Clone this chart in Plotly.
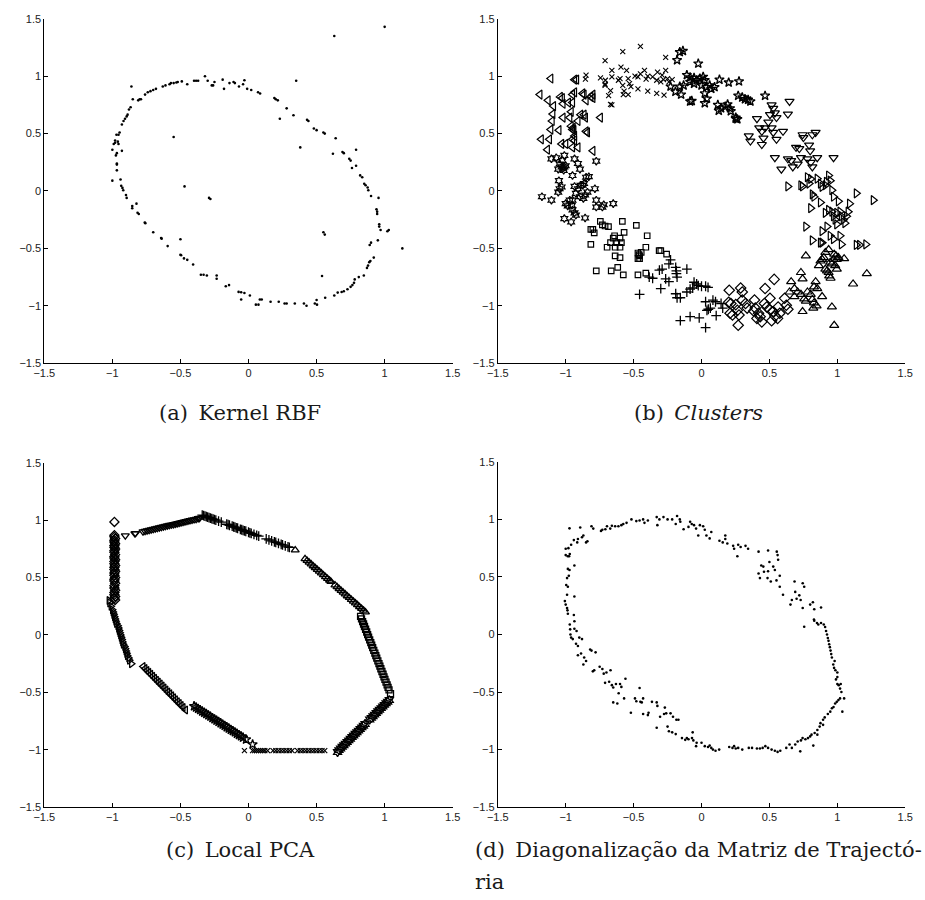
import plotly.graph_objects as go

# ---------------- (a) Kernel RBF ----------------
a_pts = [
    (1.00, 1.43), (0.63, 1.35), (0.35, 0.96), (-0.55, 0.47), (-0.47, 0.04), (-0.28, -0.07), (-0.29, -0.06),
    (0.55, -0.36), (0.56, -0.38), (0.54, -0.74), (1.13, -0.50), (1.03, -0.34), (1.02, -0.35), (0.38, 0.38),
    (0.23, 0.63), (0.33, 0.66), (0.64, 0.46), (0.79, 0.36), (-0.50, -0.42),
    (-0.86, 0.91), (-0.85, 0.80), (-0.81, 0.79), (-0.80, 0.80), (-0.79, 0.80), (-0.76, 0.84), (-0.74, 0.86),
    (-0.72, 0.87), (-0.70, 0.88), (-0.68, 0.89), (-0.63, 0.91), (-0.61, 0.92), (-0.58, 0.93), (-0.57, 0.94),
    (-0.55, 0.94), (-0.53, 0.945), (-0.52, 0.95), (-0.49, 0.955), (-0.45, 0.93), (-0.40, 0.96), (-0.385, 0.96),
    (-0.37, 0.96), (-0.32, 1.00), (-0.30, 0.96), (-0.27, 0.92), (-0.26, 0.92), (-0.25, 0.95), (-0.19, 0.97),
    (-0.18, 0.89), (-0.14, 0.94), (-0.11, 0.95), (-0.10, 0.94), (-0.07, 0.91), (-0.04, 0.93), (-0.03, 0.965),
    (-0.01, 0.89), (0.02, 0.88), (0.07, 0.86), (0.085, 0.85), (0.19, 0.81), (0.20, 0.80), (0.215, 0.79),
    (0.28, 0.72), (0.43, 0.62), (0.44, 0.61), (0.48, 0.545), (0.50, 0.53), (0.55, 0.51), (0.56, 0.50),
    (0.62, 0.325), (0.69, 0.34), (0.70, 0.33), (0.74, 0.28), (0.75, 0.265), (0.76, 0.20), (0.79, 0.22),
    (0.82, 0.136), (0.835, 0.12), (0.85, 0.063), (0.86, 0.05), (0.875, 0.03), (0.88, 0.007), (0.90, -0.044),
    (0.955, -0.06), (0.94, -0.16), (0.945, -0.18), (0.945, -0.20), (0.96, -0.29), (0.96, -0.31), (0.97, -0.34),
    (0.95, -0.43), (0.90, -0.45), (0.89, -0.47), (0.92, -0.58), (0.895, -0.61), (0.887, -0.62), (0.878, -0.65),
    (0.87, -0.67), (0.847, -0.736), (0.81, -0.75), (0.78, -0.77), (0.775, -0.80), (0.763, -0.82), (0.75, -0.835),
    (0.727, -0.856), (0.70, -0.873), (0.684, -0.88), (0.655, -0.885), (0.63, -0.91), (0.563, -0.93),
    (0.50, -0.95), (0.487, -0.98), (0.503, -0.99), (0.426, -1.00), (0.407, -0.98), (0.34, -0.98), (0.28, -0.98),
    (0.265, -0.98), (0.222, -0.965), (0.162, -0.965), (0.097, -0.945), (0.083, -0.945), (0.073, -0.99),
    (0.054, -0.99), (0.01, -0.91), (-0.03, -0.888), (-0.054, -0.882), (-0.073, -0.879), (-0.054, -0.945),
    (-0.143, -0.82), (-0.167, -0.83), (-0.234, -0.736), (-0.234, -0.765), (-0.306, -0.736), (-0.33, -0.73),
    (-0.35, -0.73), (-0.407, -0.64), (-0.45, -0.60), (-0.474, -0.587), (-0.50, -0.556), (-0.495, -0.56),
    (-0.594, -0.48), (-0.642, -0.41), (-0.638, -0.415), (-0.70, -0.36), (-0.758, -0.28), (-0.762, -0.275),
    (-0.806, -0.20), (-0.815, -0.19), (-0.823, -0.11), (-0.854, -0.13), (-0.854, -0.15), (-0.895, -0.06),
    (-0.90, -0.035), (-0.92, 0.007), (-0.926, 0.027), (-0.935, 0.045), (-0.94, 0.10), (-0.93, 0.35),
    (-1.00, 0.09), (-1.00, 0.36), (-0.98, 0.42), (-0.97, 0.49), (-0.967, 0.18), (-0.967, 0.23), (-0.967, 0.24),
    (-0.967, 0.33), (-0.974, 0.31), (-0.955, 0.41), (-0.96, 0.43), (-0.955, 0.49), (-0.947, 0.51), (-0.93, 0.58),
    (-0.918, 0.61), (-0.907, 0.63), (-0.895, 0.65), (-0.888, 0.665), (-0.878, 0.71), (-0.866, 0.73),
    (-0.99, 0.41), (-0.98, 0.44),
]

# ---------------- (b) Clusters ----------------
b_left = [(-1.19, 0.84), (-1.11, 0.98), (-1.13, 0.79), (-1.09, 0.74), (-1.095, 0.67), (-1.10, 0.61), (-1.11, 0.535),
          (-1.12, 0.45), (-1.18, 0.45), (-1.135, 0.36), (-1.05, 0.53), (-1.04, 0.82), (-1.025, 0.81), (-1.02, 0.76),
          (-1.02, 0.64), (-1.03, 0.41), (-0.98, 0.77), (-0.96, 0.69), (-0.97, 0.64), (-0.95, 0.77), (-0.935, 0.97),
          (-0.92, 0.97), (-0.935, 0.86), (-0.95, 0.84), (-0.875, 0.85), (-0.865, 0.84), (-0.85, 0.79), (-0.815, 0.82),
          (-0.80, 0.81), (-0.80, 0.84), (-0.96, 0.565), (-0.95, 0.535), (-0.935, 0.48), (-0.935, 0.44), (-0.95, 0.45),
          (-0.91, 0.38), (-0.95, 0.38), (-0.89, 0.665), (-0.865, 0.665), (-0.855, 0.64), (-0.85, 0.52), (-0.84, 0.51),
          (-0.80, 0.35), (-0.745, 0.64), (-0.91, 0.61), (-1.0, 0.41), (-0.945, 0.55), (-0.94, 0.53)]
b_hex = [(-1.175, -0.05), (-1.105, -0.08), (-1.105, 0.28), (-1.07, 0.29), (-1.045, 0.235), (-1.055, 0.19), (-1.03, 0.21),
         (-1.01, 0.21), (-1.0, 0.22), (-1.01, 0.31), (-1.025, 0.265), (-1.05, 0.09), (-1.03, 0.035), (-1.055, -0.01),
         (-1.045, 0.02), (-0.95, 0.135), (-0.935, 0.28), (-0.91, 0.24), (-0.895, 0.19), (-0.85, 0.12), (-0.83, 0.125),
         (-0.935, 0.04), (-0.91, 0.02), (-0.925, -0.02), (-0.89, 0.05), (-0.875, 0.05), (-0.865, 0.065), (-1.0, -0.11),
         (-0.985, -0.13), (-0.97, -0.08), (-0.95, -0.08), (-0.955, -0.125), (-0.95, -0.165), (-0.935, -0.19),
         (-0.925, -0.21), (-0.96, -0.27), (-1.01, -0.24), (-0.895, -0.05), (-0.87, -0.065), (-0.857, -0.035),
         (-0.84, -0.01), (-0.785, 0.02), (-0.775, -0.08), (-0.775, -0.14), (-0.73, -0.14), (-0.72, -0.12),
         (-0.65, -0.11), (-0.857, -0.235), (-0.775, 0.26), (-1.02, 0.20), (-1.015, 0.18)]
b_square = [(-0.815, -0.335), (-0.80, -0.335), (-0.79, -0.365), (-0.815, -0.465), (-0.775, -0.695), (-0.745, -0.265),
            (-0.73, -0.295), (-0.71, -0.305), (-0.685, -0.31), (-0.695, -0.49), (-0.67, -0.45), (-0.65, -0.41),
            (-0.64, -0.39), (-0.665, -0.695), (-0.617, -0.665), (-0.576, -0.73), (-0.636, -0.49), (-0.60, -0.49),
            (-0.59, -0.45), (-0.636, -0.565), (-0.60, -0.58), (-0.583, -0.265), (-0.57, -0.36), (-0.60, -0.41),
            (-0.624, -0.45), (-0.48, -0.30), (-0.40, -0.39), (-0.41, -0.49), (-0.468, -0.54), (-0.456, -0.565),
            (-0.456, -0.59), (-0.468, -0.59), (-0.444, -0.535), (-0.468, -0.73), (-0.41, -0.715), (-0.312, -0.52),
            (-0.30, -0.52), (-0.257, -0.55), (-0.46, -0.555)]
b_plus = [(-0.228, -0.60), (-0.24, -0.635), (-0.29, -0.68), (-0.31, -0.69), (-0.30, -0.85), (-0.36, -0.76),
          (-0.385, -0.75), (-0.456, -0.90), (-0.264, -0.765), (-0.24, -0.79), (-0.19, -0.665), (-0.185, -0.695),
          (-0.185, -0.72), (-0.18, -0.75), (-0.108, -0.68), (-0.19, -0.895), (-0.18, -0.93), (-0.156, -0.93),
          (-0.108, -0.88), (-0.084, -0.855), (-0.065, -0.845), (-0.055, -0.795), (-0.036, -0.81), (-0.024, -0.825),
          (0.0, -0.83), (0.03, -0.83), (0.048, -0.84), (-0.156, -1.13), (-0.084, -1.095), (-0.017, -1.105),
          (0.03, -0.965), (0.04, -1.04), (0.065, -1.02), (0.084, -0.95), (0.103, -0.965), (0.03, -1.19),
          (0.108, -1.085), (0.144, -0.98), (0.156, -1.02), (0.05, -1.03)]
b_diamond = [(0.204, -0.865), (0.288, -0.845), (0.30, -0.88), (0.216, -0.98), (0.252, -0.99), (0.264, -1.04),
             (0.228, -1.08), (0.276, -1.08), (0.27, -1.17), (0.21, -1.065), (0.324, -0.98), (0.336, -1.02),
             (0.30, -0.95), (0.384, -1.045), (0.396, -1.02), (0.42, -1.065), (0.408, -1.11), (0.432, -1.095),
             (0.444, -1.14), (0.468, -0.85), (0.504, -0.935), (0.463, -0.98), (0.48, -1.01), (0.504, -1.035),
             (0.528, -1.05), (0.54, -1.09), (0.516, -1.13), (0.564, -1.01), (0.576, -1.065), (0.56, -1.11),
             (0.535, -0.77), (0.612, -0.935), (0.624, -0.995), (0.636, -1.03), (0.20, -0.97), (0.39, -0.95)]
b_up = [(0.768, -0.565), (0.732, -0.71), (0.744, -0.765), (0.66, -0.79), (0.684, -0.85), (0.648, -0.88),
        (0.708, -0.88), (0.732, -0.90), (0.684, -0.92), (0.756, -0.94), (0.768, -0.96), (0.78, -0.88), (0.804, -0.90),
        (0.816, -0.945), (0.828, -0.975), (0.847, -1.0), (0.744, -1.05), (0.823, -1.02), (0.888, -0.92),
        (0.96, -1.01), (0.84, -0.79), (0.852, -0.85), (0.828, -0.835), (0.864, -0.65), (0.876, -0.61),
        (0.888, -0.595), (0.90, -0.58), (0.912, -0.68), (0.924, -0.695), (0.936, -0.71), (0.948, -0.62),
        (0.96, -0.635), (0.972, -0.595), (0.984, -0.65), (0.996, -0.68), (0.977, -0.55), (0.99, -0.565),
        (0.996, -0.595), (1.008, -0.58), (1.05, -0.59), (1.116, -0.81), (1.217, -0.72), (0.977, -1.17),
        (0.912, -0.535), (0.936, -0.51), (0.94, -0.74), (0.95, -0.76)]
b_right = [(0.636, 0.04), (0.732, 0.05), (0.744, 0.04), (0.78, 0.12), (0.804, 0.105), (0.792, 0.065), (0.816, -0.03),
           (0.828, -0.05), (0.804, -0.15), (0.768, -0.31), (0.816, -0.43), (0.852, 0.107), (0.876, 0.064),
           (0.888, 0.036), (0.912, 0.05), (0.92, 0.08), (0.936, 0.135), (0.948, 0.09), (0.96, 0.007), (0.972, -0.05),
           (0.876, -0.10), (0.912, -0.19), (0.936, -0.165), (0.96, -0.18), (0.972, -0.22), (0.996, -0.19),
           (1.008, -0.09), (1.02, -0.18), (1.03, -0.22), (1.044, -0.25), (1.056, -0.28), (1.068, -0.22),
           (1.08, -0.18), (1.09, -0.11), (1.14, -0.02), (1.265, -0.08), (0.888, -0.35), (0.924, -0.31),
           (0.948, -0.39), (0.972, -0.42), (0.876, -0.45), (0.888, -0.45), (1.02, -0.39), (1.03, -0.465),
           (1.14, -0.47), (1.164, -0.47), (1.21, -0.465), (0.984, -0.25), (0.996, -0.29)]
b_down = [(0.348, 0.48), (0.36, 0.435), (0.408, 0.63), (0.425, 0.55), (0.444, 0.52), (0.468, 0.55), (0.456, 0.46),
          (0.444, 0.405), (0.516, 0.75), (0.528, 0.72), (0.54, 0.68), (0.552, 0.64), (0.504, 0.665), (0.492, 0.60),
          (0.516, 0.55), (0.528, 0.51), (0.648, 0.78), (0.636, 0.67), (0.60, 0.52), (0.552, 0.45), (0.54, 0.29),
          (0.588, 0.19), (0.696, 0.38), (0.66, 0.265), (0.636, 0.28), (0.672, 0.21), (0.708, 0.235), (0.732, 0.29),
          (0.744, 0.49), (0.75, 0.465), (0.816, 0.49), (0.84, 0.51), (0.792, 0.40), (0.78, 0.28), (0.804, 0.25),
          (0.816, 0.21), (0.852, 0.29), (0.972, 0.29), (0.72, 0.37), (0.80, 0.35)]
b_star = [(-0.16, 1.21), (-0.137, 1.22), (-0.18, 1.14), (-0.024, 1.11), (-0.192, 0.865), (-0.228, 0.91), (-0.15, 0.84),
          (-0.084, 0.78), (-0.072, 0.785), (-0.108, 1.01), (-0.084, 0.99), (-0.055, 0.985), (-0.036, 0.965),
          (-0.012, 0.98), (0.012, 0.995), (0.024, 0.965), (0.0, 0.92), (0.036, 0.905), (0.06, 0.92), (0.072, 0.89),
          (-0.084, 0.95), (-0.055, 0.935), (-0.132, 0.92), (-0.16, 0.91), (0.024, 0.765), (0.04, 0.805),
          (0.024, 0.85), (0.096, 0.905), (0.132, 0.97), (0.20, 0.945), (0.276, 0.955), (0.12, 0.75), (0.144, 0.72),
          (0.175, 0.735), (0.192, 0.755), (0.21, 0.72), (0.127, 0.70), (0.216, 0.695), (0.252, 0.63), (0.264, 0.625),
          (0.27, 0.83), (0.30, 0.815), (0.32, 0.80), (0.343, 0.795), (0.36, 0.78), (0.468, 0.83), (0.252, 0.64)]
b_x = [(-0.71, 1.135), (-0.58, 1.215), (-0.45, 1.26), (-0.264, 1.165), (-0.58, 0.92), (-0.66, 1.05), (-0.66, 0.995),
       (-0.71, 0.92), (-0.71, 0.93), (-0.67, 0.875), (-0.684, 0.83), (-0.67, 0.755), (-0.66, 0.75), (-0.85, 1.01),
       (-0.855, 0.975), (-0.744, 0.985), (-0.708, 0.965), (-0.593, 1.08), (-0.60, 0.98), (-0.612, 0.965),
       (-0.552, 1.05), (-0.54, 0.98), (-0.53, 0.935), (-0.52, 0.91), (-0.57, 0.87), (-0.576, 0.84), (-0.54, 0.84),
       (-0.468, 0.89), (-0.49, 1.0), (-0.468, 0.995), (-0.45, 1.02), (-0.42, 1.05), (-0.408, 0.975), (-0.396, 1.0),
       (-0.36, 0.995), (-0.396, 0.87), (-0.33, 0.85), (-0.276, 0.835), (-0.324, 1.035), (-0.29, 1.01),
       (-0.264, 1.05), (-0.25, 0.98), (-0.24, 0.95), (-0.216, 0.97), (-0.33, 0.965), (-0.30, 0.95), (-0.28, 0.97)]

# ---------------- (c) Local PCA ----------------
c_diamond = [(-0.985, 0.985), (-0.985, 0.87), (-0.985, 0.855), (-0.98, 0.84), (-0.985, 0.825), (-0.985, 0.81),
             (-0.98, 0.795), (-0.985, 0.78), (-0.985, 0.765), (-0.98, 0.75), (-0.985, 0.735), (-0.985, 0.72),
             (-0.98, 0.70), (-0.985, 0.685), (-0.985, 0.67), (-0.98, 0.655), (-0.985, 0.64), (-0.985, 0.62),
             (-0.98, 0.605), (-0.985, 0.59), (-0.985, 0.57), (-0.98, 0.555), (-0.985, 0.54), (-0.985, 0.52),
             (-0.98, 0.50), (-0.985, 0.485), (-0.985, 0.47), (-0.98, 0.45), (-0.985, 0.43), (-0.985, 0.41),
             (-0.98, 0.39), (-0.985, 0.37), (-0.985, 0.35), (-0.98, 0.335), (-0.985, 0.32), (-0.98, 0.305)]
c_down = [(-0.905, 0.865), (-0.835, 0.884), (-0.83, 0.886), (-0.775, 0.90), (-0.76, 0.905), (-0.745, 0.909),
          (-0.73, 0.914), (-0.715, 0.918), (-0.70, 0.922), (-0.685, 0.926), (-0.67, 0.931), (-0.655, 0.935),
          (-0.64, 0.939), (-0.625, 0.943), (-0.61, 0.948), (-0.595, 0.952), (-0.58, 0.956), (-0.565, 0.96),
          (-0.55, 0.964), (-0.535, 0.968), (-0.52, 0.973), (-0.505, 0.977), (-0.49, 0.981), (-0.475, 0.985),
          (-0.46, 0.99), (-0.445, 0.994), (-0.43, 0.998), (-0.415, 1.002), (-0.40, 1.006), (-0.385, 1.01),
          (-0.37, 1.015), (-0.36, 1.018)]
c_plus = [(-0.34, 1.044), (-0.33, 1.04), (-0.32, 1.036), (-0.31, 1.031), (-0.30, 1.027), (-0.29, 1.022),
          (-0.28, 1.018), (-0.27, 1.014), (-0.26, 1.009), (-0.25, 1.005), (-0.24, 1.0), (-0.22, 0.992),
          (-0.20, 0.983), (-0.16, 0.965), (-0.15, 0.961), (-0.14, 0.956), (-0.12, 0.948), (-0.11, 0.943),
          (-0.10, 0.939), (-0.09, 0.934), (-0.08, 0.93), (-0.06, 0.921), (-0.05, 0.917), (-0.04, 0.912),
          (-0.03, 0.908), (-0.02, 0.904), (0.0, 0.895), (0.01, 0.89), (0.02, 0.886), (0.04, 0.877), (0.06, 0.868),
          (0.075, 0.862), (0.13, 0.838), (0.15, 0.829), (0.17, 0.82), (0.19, 0.811), (0.20, 0.807), (0.22, 0.798),
          (0.24, 0.789), (0.25, 0.785), (0.27, 0.776), (0.29, 0.767), (0.30, 0.763)]
c_up = [(0.343, 0.74), (0.415, 0.664), (0.43, 0.648), (0.445, 0.633), (0.46, 0.617), (0.475, 0.601), (0.49, 0.586),
        (0.505, 0.57), (0.52, 0.554), (0.535, 0.539), (0.55, 0.523), (0.565, 0.507), (0.58, 0.492), (0.595, 0.476),
        (0.605, 0.466), (0.635, 0.434), (0.65, 0.419), (0.665, 0.403), (0.68, 0.387), (0.695, 0.372),
        (0.71, 0.356), (0.725, 0.34), (0.74, 0.325), (0.755, 0.309), (0.77, 0.293), (0.785, 0.278), (0.80, 0.262),
        (0.815, 0.246), (0.83, 0.231), (0.845, 0.215), (0.859, 0.20)]
c_square = [(0.823, 0.163), (0.83, 0.14), (0.838, 0.117), (0.845, 0.096), (0.852, 0.074), (0.86, 0.05),
            (0.868, 0.026), (0.875, 0.004), (0.882, -0.018), (0.89, -0.042), (0.898, -0.066), (0.905, -0.088),
            (0.912, -0.11), (0.92, -0.134), (0.928, -0.158), (0.935, -0.18), (0.942, -0.202), (0.95, -0.226),
            (0.958, -0.25), (0.965, -0.272), (0.972, -0.294), (0.98, -0.318), (0.988, -0.342), (0.995, -0.364),
            (1.002, -0.386), (1.01, -0.41), (1.018, -0.434), (1.025, -0.456), (1.032, -0.478), (1.043, -0.51)]
c_hex = [(1.034, -0.567), (1.022, -0.581), (1.01, -0.595), (0.998, -0.609), (0.986, -0.623), (0.974, -0.637),
         (0.962, -0.651), (0.95, -0.665), (0.938, -0.68), (0.926, -0.694), (0.914, -0.708), (0.902, -0.722),
         (0.89, -0.736), (0.856, -0.776), (0.844, -0.79), (0.832, -0.805), (0.82, -0.819), (0.808, -0.833),
         (0.796, -0.847), (0.784, -0.861), (0.772, -0.875), (0.76, -0.889), (0.748, -0.904), (0.736, -0.918),
         (0.724, -0.932), (0.712, -0.946), (0.70, -0.96), (0.688, -0.974), (0.676, -0.989), (0.664, -1.003),
         (0.654, -1.02)]
c_x = [(-0.03, -1.008), (0.03, -1.008), (0.045, -1.008), (0.06, -1.008), (0.075, -1.008), (0.09, -1.008),
       (0.105, -1.008), (0.12, -1.008), (0.14, -1.008), (0.18, -1.008), (0.20, -1.008), (0.22, -1.008),
       (0.24, -1.008), (0.26, -1.008), (0.28, -1.008), (0.30, -1.008), (0.32, -1.008), (0.36, -1.008),
       (0.38, -1.008), (0.40, -1.008), (0.42, -1.008), (0.44, -1.008), (0.46, -1.008), (0.48, -1.008),
       (0.50, -1.008), (0.52, -1.008), (0.54, -1.008), (0.56, -1.008)]
c_star = [(-0.40, -0.62), (-0.385, -0.631), (-0.37, -0.643), (-0.355, -0.654), (-0.34, -0.666), (-0.325, -0.677),
          (-0.31, -0.688), (-0.295, -0.7), (-0.28, -0.711), (-0.265, -0.723), (-0.25, -0.734), (-0.235, -0.746),
          (-0.22, -0.757), (-0.205, -0.768), (-0.19, -0.78), (-0.175, -0.791), (-0.16, -0.803), (-0.145, -0.814),
          (-0.13, -0.826), (-0.115, -0.837), (-0.10, -0.848), (-0.085, -0.86), (-0.07, -0.871), (-0.055, -0.883),
          (-0.04, -0.894), (-0.018, -0.91), (0.03, -0.953)]
c_left = [(-0.774, -0.275), (-0.76, -0.292), (-0.746, -0.309), (-0.732, -0.326), (-0.718, -0.343), (-0.704, -0.36),
          (-0.69, -0.377), (-0.676, -0.394), (-0.662, -0.411), (-0.648, -0.428), (-0.634, -0.445), (-0.62, -0.462),
          (-0.606, -0.479), (-0.592, -0.496), (-0.578, -0.513), (-0.564, -0.53), (-0.55, -0.547), (-0.536, -0.564),
          (-0.522, -0.581), (-0.508, -0.598), (-0.494, -0.615), (-0.48, -0.632), (-0.462, -0.653)]
c_right = [(-1.025, 0.30), (-1.02, 0.28), (-1.01, 0.25), (-1.0, 0.22), (-0.995, 0.20), (-0.99, 0.18), (-0.985, 0.16),
           (-0.98, 0.14), (-0.975, 0.12), (-0.97, 0.10), (-0.96, 0.08), (-0.955, 0.06), (-0.95, 0.04), (-0.945, 0.02),
           (-0.94, 0.0), (-0.935, -0.02), (-0.93, -0.04), (-0.925, -0.06), (-0.92, -0.08), (-0.91, -0.10),
           (-0.905, -0.12), (-0.90, -0.14), (-0.895, -0.16), (-0.89, -0.18), (-0.88, -0.20), (-0.875, -0.22),
           (-0.86, -0.25)]

# ---------------- (d) Diagonalização da Matriz de Trajectória ----------------
d_pts = [
    (-0.972, 0.922), (-0.893, 0.93), (-1.0, 0.745), (-0.98, 0.75), (-1.0, 0.69), (-0.985, 0.68), (-0.975, 0.68),
    (-0.97, 0.70), (-0.96, 0.78), (-0.94, 0.82), (-0.91, 0.83), (-0.915, 0.80), (-0.88, 0.845), (-0.87, 0.86),
    (-0.85, 0.80), (-0.84, 0.81), (-0.81, 0.94), (-0.797, 0.92), (-0.936, 0.60), (-0.972, 0.56), (-0.984, 0.57),
    (-0.977, 0.51), (-0.99, 0.49), (-0.996, 0.43), (-0.984, 0.415), (-0.936, 0.33), (-0.99, 0.345),
    (-1.006, 0.29), (-1.0, 0.26), (-0.99, 0.23), (-0.987, 0.21), (-0.984, 0.18), (-0.94, 0.17), (-0.936, 0.115),
    (-0.97, 0.087), (-0.967, 0.045), (-0.965, 0.0), (-0.936, 0.05), (-0.92, 0.03), (-0.96, -0.027),
    (-0.948, -0.04), (-0.90, -0.027), (-0.88, -0.04), (-0.924, -0.08), (-0.91, -0.10), (-0.91, -0.18),
    (-0.887, -0.165), (-0.864, -0.20), (-0.85, -0.23), (-0.87, -0.26), (-0.82, -0.13), (-0.81, -0.14),
    (-0.78, -0.155), (-0.80, -0.32), (-0.79, -0.31), (-0.75, -0.28), (-0.73, -0.30), (-0.72, -0.34),
    (-0.70, -0.33), (-0.67, -0.31), (-0.71, -0.42), (-0.68, -0.41), (-0.66, -0.44), (-0.65, -0.46),
    (-0.63, -0.43), (-0.60, -0.43), (-0.59, -0.455), (-0.61, -0.51), (-0.65, -0.59), (-0.62, -0.60),
    (-0.57, -0.555), (-0.56, -0.385), (-0.52, -0.68), (-0.456, -0.465), (-0.49, -0.555), (-0.48, -0.58),
    (-0.45, -0.585), (-0.43, -0.555), (-0.44, -0.59), (-0.43, -0.69), (-0.395, -0.70), (-0.39, -0.68),
    (-0.365, -0.585), (-0.33, -0.59), (-0.325, -0.62), (-0.33, -0.81), (-0.305, -0.715), (-0.276, -0.69),
    (-0.26, -0.685), (-0.27, -0.635), (-0.25, -0.80), (-0.24, -0.84), (-0.216, -0.85), (-0.19, -0.865),
    (-0.228, -0.685), (-0.21, -0.715), (-0.185, -0.74), (-0.17, -0.74), (-0.144, -0.90), (-0.12, -0.915),
    (-0.108, -0.90), (-0.096, -0.91), (-0.065, -0.85), (-0.07, -0.90), (-0.06, -0.92), (-0.036, -0.94),
    (-0.04, -0.97), (0.0, -0.94), (0.024, -0.97), (0.048, -0.977), (0.06, -0.965), (0.072, -0.985),
    (0.084, -1.0), (0.103, -1.01), (0.13, -1.0), (0.204, -0.977), (0.228, -0.985), (0.24, -0.97),
    (0.252, -0.99), (0.27, -0.985), (0.30, -1.0), (0.348, -0.985), (0.372, -0.985), (0.408, -0.99),
    (0.43, -0.99), (0.45, -0.985), (0.47, -0.97), (0.49, -0.985), (0.516, -1.0), (0.54, -1.01), (0.56, -1.02),
    (0.58, -1.01), (0.624, -0.985), (0.648, -0.956), (0.665, -0.985), (0.69, -0.956), (0.708, -0.93),
    (0.732, -0.92), (0.744, -0.90), (0.727, -1.015), (0.765, -0.91), (0.784, -0.90), (0.80, -0.885),
    (0.81, -0.87), (0.823, -0.965), (0.833, -0.855), (0.853, -0.83), (0.853, -0.87), (0.87, -0.80),
    (0.876, -0.77), (0.895, -0.74), (0.907, -0.72), (0.895, -0.785), (0.93, -0.69), (0.948, -0.67),
    (0.96, -0.64), (0.972, -0.63), (0.984, -0.60), (0.996, -0.585), (1.008, -0.57), (1.02, -0.555),
    (1.037, -0.67), (1.05, -0.555), (1.03, -0.50), (1.02, -0.47), (1.01, -0.44), (1.0, -0.43), (1.025, -0.43),
    (0.99, -0.39), (1.0, -0.37), (1.0, -0.33), (0.986, -0.31), (0.976, -0.29), (0.97, -0.26), (0.98, -0.23),
    (0.96, -0.20), (0.955, -0.17), (0.95, -0.14), (0.945, -0.11), (0.94, -0.085), (0.935, -0.055),
    (0.93, -0.03), (0.924, 0.0), (0.917, 0.03), (0.91, 0.065), (0.90, 0.087), (0.88, 0.10), (0.86, 0.087),
    (0.85, 0.10), (0.83, 0.12), (0.756, 0.067), (0.828, 0.13), (0.82, 0.28), (0.80, 0.26), (0.83, 0.22),
    (0.88, 0.235), (0.745, 0.23), (0.73, 0.30), (0.70, 0.31), (0.665, 0.30), (0.655, 0.26), (0.72, 0.34),
    (0.69, 0.37), (0.685, 0.46), (0.745, 0.445), (0.756, 0.415), (0.60, 0.345), (0.576, 0.415), (0.552, 0.47),
    (0.576, 0.51), (0.54, 0.56), (0.528, 0.59), (0.50, 0.63), (0.51, 0.46), (0.486, 0.49), (0.46, 0.545),
    (0.49, 0.55), (0.455, 0.59), (0.42, 0.53), (0.43, 0.49), (0.44, 0.60), (0.564, 0.65), (0.56, 0.69),
    (0.42, 0.72), (0.49, 0.73), (0.554, 0.72), (0.343, 0.745), (0.324, 0.77), (0.288, 0.76), (0.27, 0.78),
    (0.264, 0.68), (0.24, 0.745), (0.233, 0.77), (0.19, 0.79), (0.175, 0.83), (0.175, 0.86), (0.156, 0.80),
    (0.132, 0.815), (0.072, 0.89), (0.06, 0.835), (0.036, 0.86), (0.024, 0.91), (0.012, 0.94), (-0.012, 0.95),
    (-0.024, 0.86), (-0.04, 0.92), (-0.055, 0.95), (-0.072, 0.96), (-0.084, 0.98), (-0.096, 0.935),
    (-0.132, 0.915), (-0.156, 0.98), (-0.16, 1.0), (-0.18, 1.03), (-0.19, 0.96), (-0.216, 1.0), (-0.25, 1.0),
    (-0.28, 1.02), (-0.31, 1.0), (-0.33, 1.02), (-0.325, 0.95), (-0.395, 0.99), (-0.42, 0.97), (-0.43, 1.0),
    (-0.456, 0.99), (-0.48, 0.985), (-0.516, 1.0), (-0.552, 0.97), (-0.576, 0.96), (-0.59, 0.95),
    (-0.612, 0.94), (-0.636, 0.94), (-0.66, 0.945), (-0.672, 0.92), (-0.696, 0.94), (-0.708, 0.915),
    (-0.73, 0.91), (-0.74, 0.90),
]

tick_vals = [-1.5, -1, -0.5, 0, 0.5, 1, 1.5]
tick_text = ["\u22121.5", "\u22121", "\u22120.5", "0", "0.5", "1", "1.5"]

W, H = 925, 900
# subplot boxes in pixels: (left, right, top, bottom)
boxes = {
    "": (34, 451, 13, 362),
    "2": (497, 913, 13, 362),
    "3": (34, 451, 463, 812),
    "4": (497, 913, 462, 812),
}

fig = go.Figure()


def add_points(pts, ax, symbol, size, lw=1.0):
    xs = [p[0] for p in pts]
    ys = [p[1] for p in pts]
    fig.add_trace(go.Scatter(
        x=xs, y=ys, mode="markers", xaxis="x" + ax, yaxis="y" + ax,
        marker=dict(symbol=symbol, size=size, color="black",
                    line=dict(color="black", width=lw)),
        showlegend=False, hoverinfo="skip"))


# (a)
add_points(a_pts, "", "circle", 2.6, 0)
# (b)
add_points(b_left, "2", "triangle-left-open", 8, 1.2)
add_points(b_hex, "2", "hexagram-open", 6, 1.2)
add_points(b_square, "2", "square-open", 5.5, 1.2)
add_points(b_plus, "2", "cross-thin-open", 7, 1.3)
add_points(b_diamond, "2", "diamond-open", 8, 1.2)
add_points(b_up, "2", "triangle-up-open", 8, 1.2)
add_points(b_right, "2", "triangle-right-open", 8, 1.2)
add_points(b_down, "2", "triangle-down-open", 8, 1.2)
add_points(b_star, "2", "star-open", 7, 1.3)
add_points(b_x, "2", "x-thin-open", 5, 1.1)
# (c)
add_points(c_diamond, "3", "diamond-open", 7, 1.3)
add_points(c_down, "3", "triangle-down-open", 7, 1.3)
add_points(c_plus, "3", "cross-thin-open", 7, 1.3)
add_points(c_up, "3", "triangle-up-open", 7, 1.3)
add_points(c_square, "3", "square-open", 6, 1.3)
add_points(c_hex, "3", "hexagram-open", 7, 1.3)
add_points(c_x, "3", "x-thin-open", 5, 1.2)
add_points(c_star, "3", "star-open", 7, 1.3)
add_points(c_left, "3", "triangle-left-open", 7, 1.3)
add_points(c_right, "3", "triangle-right-open", 7, 1.3)
# (d)
add_points(d_pts, "4", "circle", 2.6, 0)

axis_common = dict(
    range=[-1.5, 1.5], tickmode="array", tickvals=tick_vals, ticktext=tick_text,
    showline=True, linecolor="black", linewidth=1, mirror=False,
    showgrid=False, zeroline=False, ticks="inside", ticklen=4, tickcolor="black",
    tickfont=dict(family="Liberation Sans, Arial, sans-serif", size=11, color="#222222"),
    fixedrange=True,
)

layout = dict(
    width=W, height=H, margin=dict(l=0, r=0, t=0, b=0),
    paper_bgcolor="white", plot_bgcolor="white",
)
for ax, (l, r, t, b) in boxes.items():
    layout["xaxis" + ax] = dict(axis_common, domain=[l / W, r / W], anchor="y" + ax)
    layout["yaxis" + ax] = dict(axis_common, domain=[1 - b / H, 1 - t / H], anchor="x" + ax)
fig.update_layout(**layout)

cap_font = dict(family="DejaVu Serif", size=21, color="#1a1a1a")


def caption(text, px, py, xanchor="center"):
    fig.add_annotation(text=text, x=px / W, y=1 - py / H, xref="paper", yref="paper",
                       xanchor=xanchor, yanchor="middle", showarrow=False, font=cap_font)


caption("(a)\u2002Kernel RBF", 234, 412)
caption("(b)\u2002<i>Clusters</i>", 702, 412)
caption("(c)\u2002Local PCA", 234, 855)
caption("(d)\u2002Diagonalização da Matriz de Trajectó-", 472, 855, "left")
caption("ria", 472, 888, "left")

fig.write_html("out.html")
